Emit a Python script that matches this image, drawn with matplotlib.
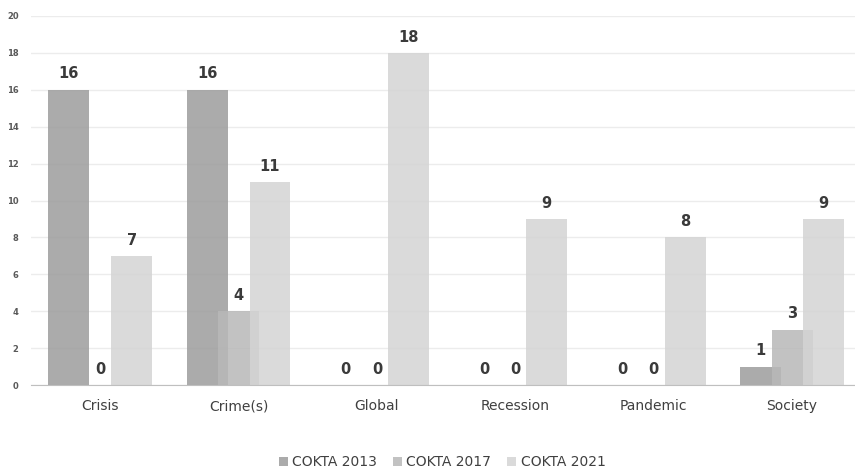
import numpy as np
import matplotlib.pyplot as plt

# Chart data
categories = ["Crisis", "Crime(s)", "Global", "Recession", "Pandemic", "Society"]
series_names = ["COKTA 2013", "COKTA 2017", "COKTA 2021"]
values_2013 = [16, 16, 0, 0, 0, 1]
values_2017 = [0, 4, 0, 0, 0, 3]
values_2021 = [7, 11, 18, 9, 8, 9]
y_ticks = [0, 2, 4, 6, 8, 10, 12, 14, 16, 18, 20]

colors = ["#9c9c9c", "#b8b8b8", "#d4d4d4"]
all_values = [values_2013, values_2017, values_2021]

fig = plt.figure(figsize=(8.55, 4.68), dpi=100)
# the plot area runs a little past the right edge, like the original
ax = fig.add_axes([0.0363, 0.177, 0.971, 0.789])

x = np.arange(len(categories))
offset = 0.227
width = 0.296

for i, (vals, name, col) in enumerate(zip(all_values, series_names, colors)):
    pos = x + (i - 1) * offset
    ax.bar(pos, vals, width=width, color=col, alpha=0.85, label=name, zorder=2)
    for p, v in zip(pos, vals):
        ax.text(p, v + 0.45, str(v), ha="center", va="bottom",
                fontsize=10.5, fontweight="bold", color="#3a3a3a")

ax.set_xlim(-0.5, len(categories) - 0.5)
ax.set_ylim(0, 20)
ax.set_yticks(y_ticks)
ax.set_yticklabels([str(t) for t in y_ticks], fontsize=6, fontweight="bold", color="#595959")
ax.set_xticks(x)
ax.set_xticklabels(categories, fontsize=10, color="#404040")
ax.tick_params(axis="both", length=0)
ax.tick_params(axis="x", pad=10)
ax.tick_params(axis="y", pad=9)

ax.grid(axis="y", color="#ececec", linewidth=1, zorder=0)
for s in ["top", "right", "left"]:
    ax.spines[s].set_visible(False)
ax.spines["bottom"].set_color("#bfbfbf")
ax.spines["bottom"].set_zorder(3)

ax.legend(loc="lower center", bbox_to_anchor=(0.495, -0.262), ncol=3, frameon=False,
          fontsize=10, handlelength=0.7, handleheight=0.7, handletextpad=0.3,
          columnspacing=1.1, labelcolor="#404040")

fig.savefig("out.png", dpi=100)
